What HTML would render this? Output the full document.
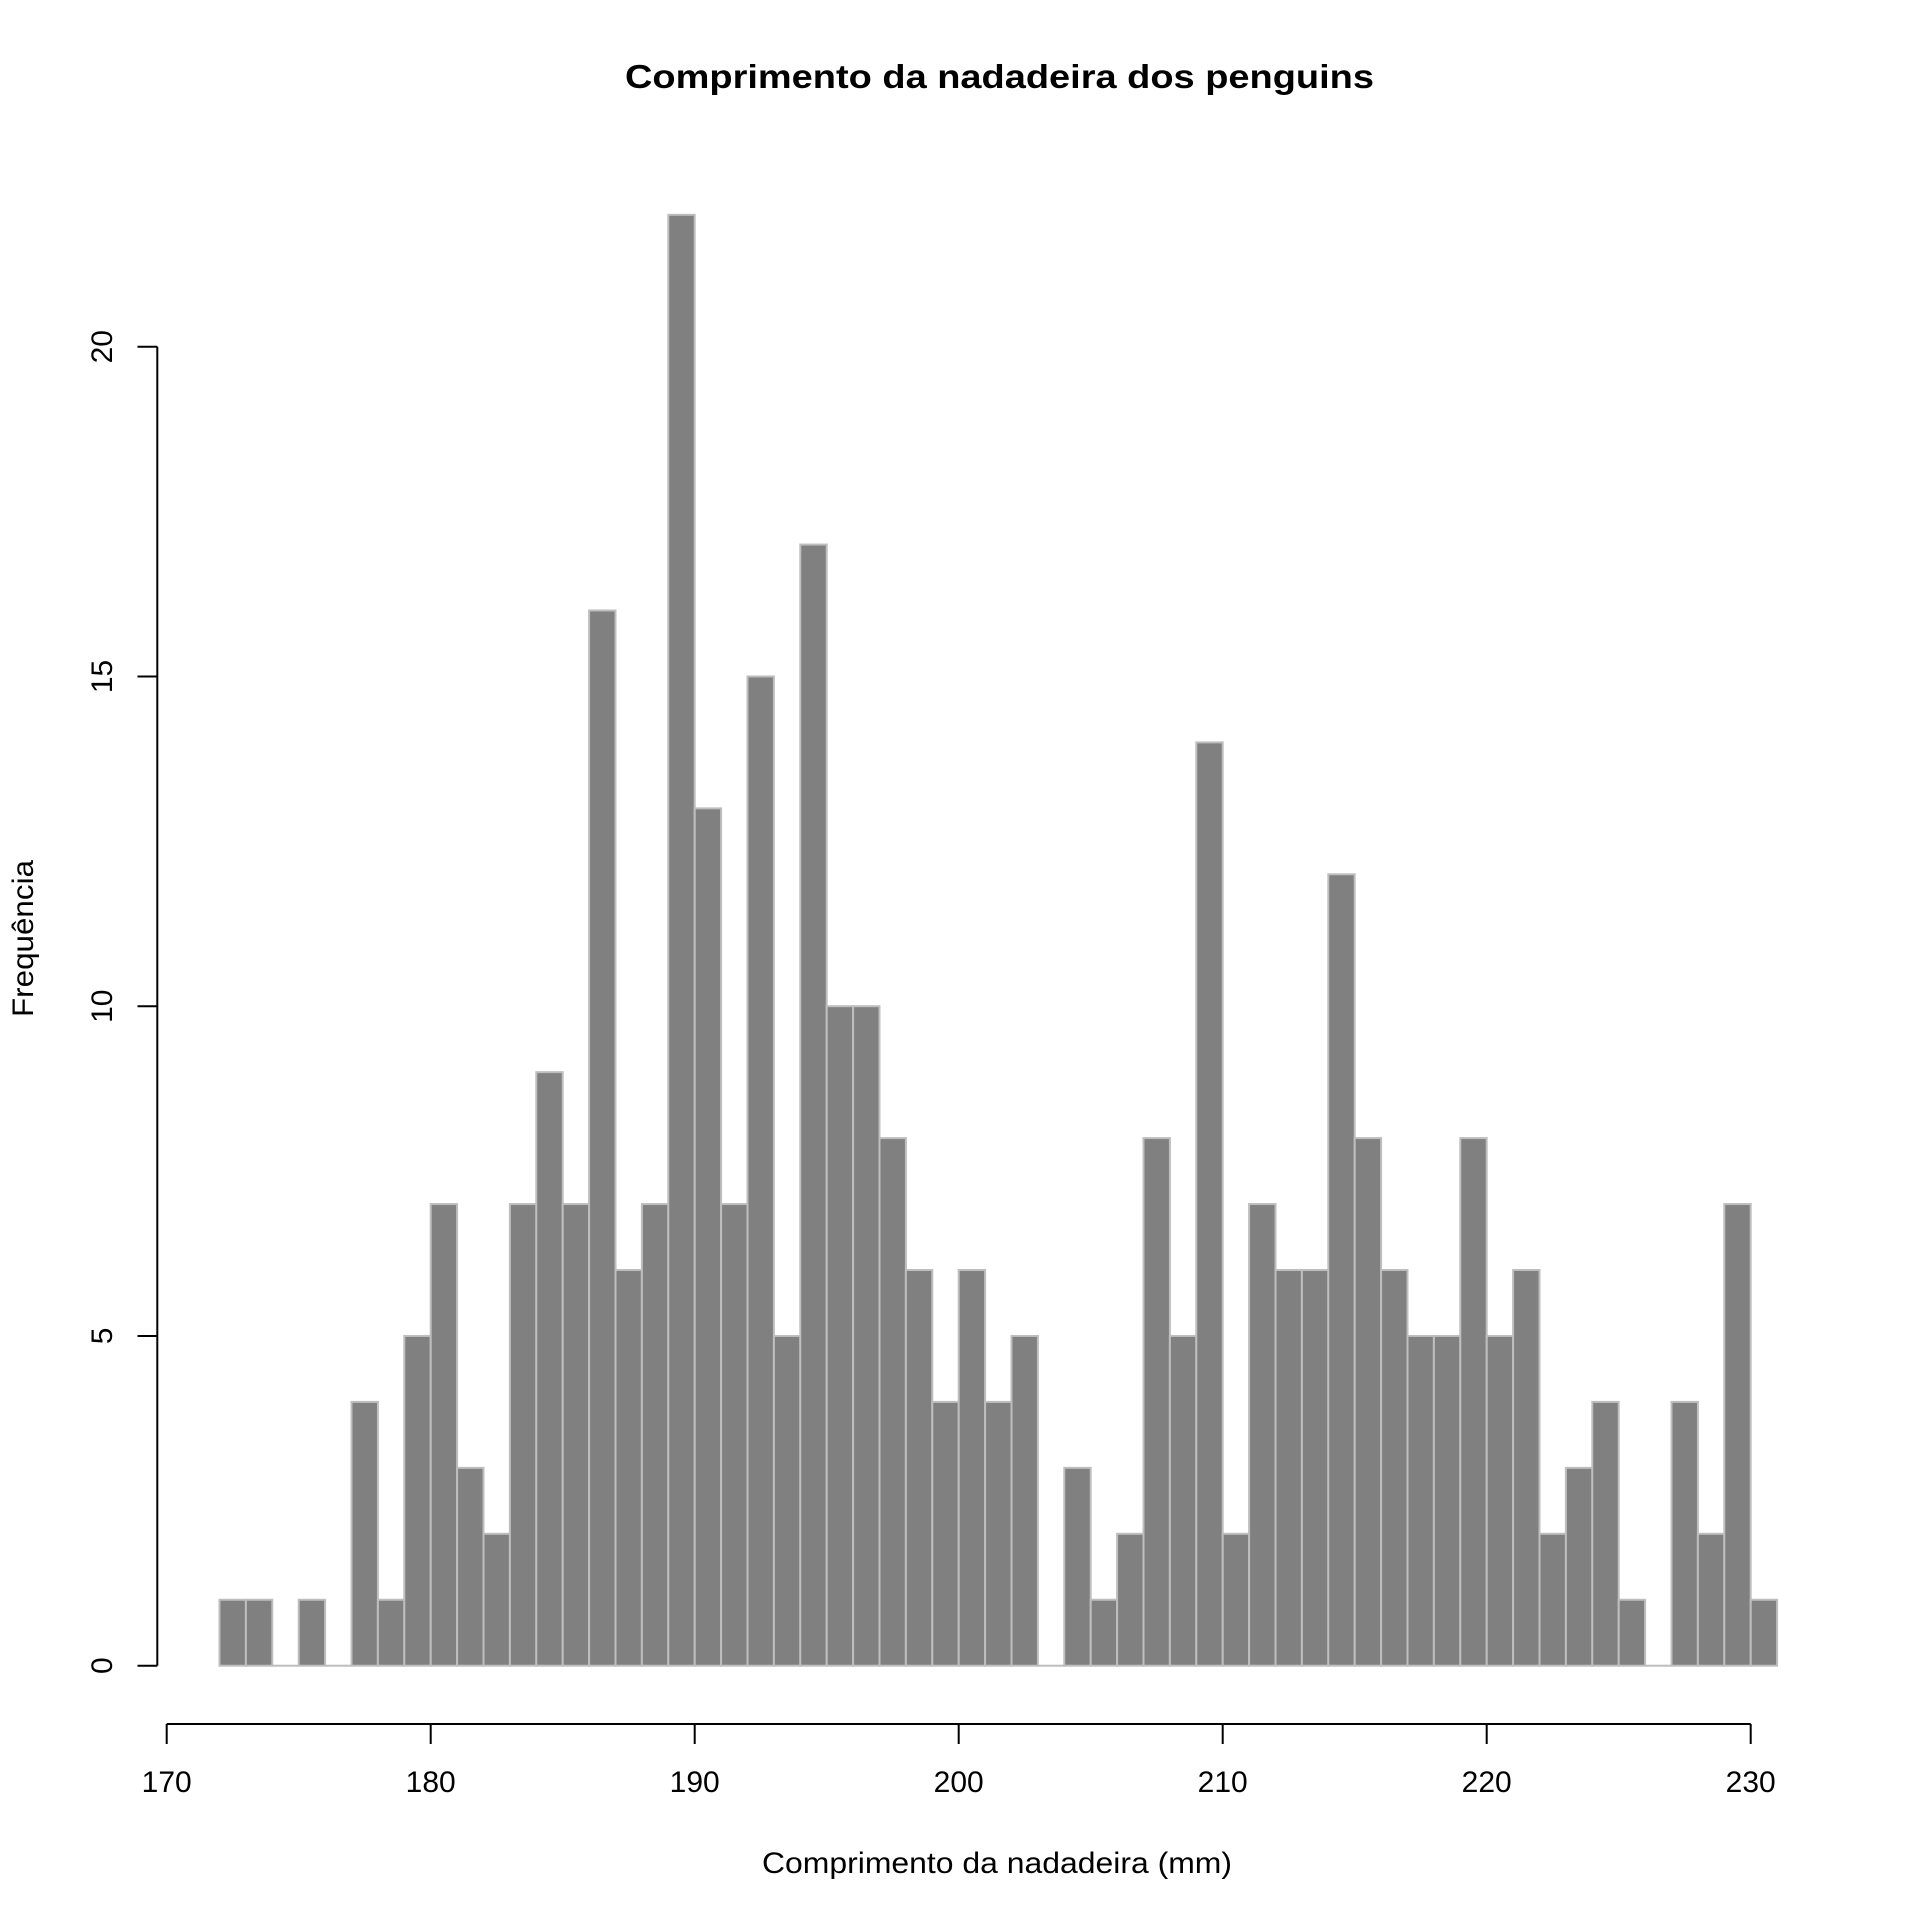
<!DOCTYPE html>
<html><head><meta charset="utf-8"><style>html,body{margin:0;padding:0;background:#fff}svg{display:block}</style></head>
<body>
<svg xmlns="http://www.w3.org/2000/svg" width="1920" height="1920" viewBox="0 0 1920 1920" font-family="Liberation Sans, Arial, sans-serif">
<rect width="1920" height="1920" fill="#fff"/>
<text x="999.5" y="88" text-anchor="middle" font-size="33" font-weight="bold" textLength="749" lengthAdjust="spacingAndGlyphs">Comprimento da nadadeira dos penguins</text>
<text x="997" y="1873" text-anchor="middle" font-size="30" textLength="470" lengthAdjust="spacingAndGlyphs">Comprimento da nadadeira (mm)</text>
<text transform="translate(33,938.5) rotate(-90)" text-anchor="middle" font-size="30" textLength="157" lengthAdjust="spacingAndGlyphs">Frequência</text>
<g id="bars" fill="#808080" stroke="#bebebe" stroke-width="2"></g>
<g stroke="#000" stroke-width="2" fill="none">
<line x1="166.7" y1="1724" x2="1750.7" y2="1724"/>
<line x1="157.3" y1="1665.7" x2="157.3" y2="346.7"/>
</g>
<g id="ticks" stroke="#000" stroke-width="2"></g>
<g id="labels" font-size="30"></g>
<script>
var c=[1,1,0,1,0,4,1,5,7,3,2,7,9,7,16,6,7,22,13,7,15,5,17,10,10,8,6,4,6,4,5,0,3,1,2,8,5,14,2,7,6,6,12,8,6,5,5,8,5,6,2,3,4,1,0,4,2,7,1];
var ns="http://www.w3.org/2000/svg",b=document.getElementById('bars'),t=document.getElementById('ticks'),l=document.getElementById('labels');
function X(v){return 166.7+(v-170)*26.4}
function Y(v){return 1665.7-v*65.95}
c.forEach(function(n,i){var r=document.createElementNS(ns,'rect');var x=X(172+i);r.setAttribute('x',x);r.setAttribute('width',26.4);r.setAttribute('y',Y(n));r.setAttribute('height',Math.max(n*65.95,0.01));b.appendChild(r);});
for(var v=170;v<=230;v+=10){var e=document.createElementNS(ns,'line');e.setAttribute('x1',X(v));e.setAttribute('x2',X(v));e.setAttribute('y1',1724);e.setAttribute('y2',1744);t.appendChild(e);
var s=document.createElementNS(ns,'text');s.setAttribute('x',X(v));s.setAttribute('y',1792);s.setAttribute('text-anchor','middle');s.textContent=v;l.appendChild(s);}
for(var v=0;v<=20;v+=5){var e=document.createElementNS(ns,'line');e.setAttribute('x1',137.5);e.setAttribute('x2',157.3);e.setAttribute('y1',Y(v));e.setAttribute('y2',Y(v));t.appendChild(e);
var s=document.createElementNS(ns,'text');s.setAttribute('transform','translate(112,'+Y(v)+') rotate(-90)');s.setAttribute('text-anchor','middle');s.textContent=v;l.appendChild(s);}
</script>
</svg>
</body></html>
